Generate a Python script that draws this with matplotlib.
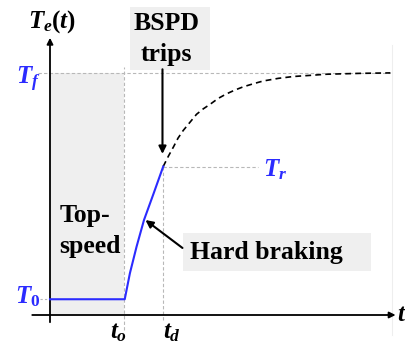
import matplotlib.pyplot as plt
from matplotlib.patches import Rectangle

plt.rcParams["font.family"] = ["Liberation Serif", "DejaVu Serif"]
plt.rcParams["mathtext.fontset"] = "custom"
plt.rcParams["mathtext.rm"] = "Liberation Serif:bold"
plt.rcParams["mathtext.it"] = "Liberation Serif:bold:italic"
plt.rcParams["mathtext.bf"] = "Liberation Serif:bold"

# key levels and instants (schematic units)
T0 = 0.35
Tf = 5.37
Tr = 3.30
t_o = 1.0
t_d = 1.53

# temperature while braking (solid) and the would-be rise after the trip (dashed)
ramp_t = [0.0, 1.01, 1.08, 1.17, 1.27, 1.40, 1.53]
ramp_T = [0.35, 0.35, 0.93, 1.52, 2.11, 2.70, 3.30]
rest_t = [1.53, 1.60, 1.67, 1.73, 1.80, 1.90, 1.98, 2.07, 2.17, 2.27, 2.38,
          2.50, 2.61, 2.75, 2.88, 3.09, 3.29, 3.56, 3.73, 3.96, 4.19, 4.60]
rest_T = [3.30, 3.53, 3.74, 3.93, 4.10, 4.30, 4.46, 4.58, 4.69, 4.81, 4.91,
          5.00, 5.07, 5.14, 5.20, 5.26, 5.30, 5.33, 5.35, 5.36, 5.37, 5.38]

blue = "#2b2bff"
grid = "#b8b8b8"
shade = "#efefef"
bold = 18.5

fig = plt.figure(figsize=(4.05, 3.49), dpi=100)
ax = fig.add_axes([0, 0, 1, 1])
ax.set_xlim(-50 / 74, 355 / 74)
ax.set_ylim(-34 / 45, 315 / 45)
ax.axis("off")

# top-speed region
ax.add_patch(Rectangle((0, 0), t_o, Tf, facecolor=shade, edgecolor="none", zorder=0))

# guide lines
ax.plot([-0.16, 4.59], [Tf, Tf], ls=(0, (3, 2)), color=grid, lw=0.8, zorder=1)
ax.plot([t_o, t_o], [-0.33, 5.51], ls=(0, (3, 2)), color=grid, lw=0.8, zorder=1)
ax.plot([t_d, t_d], [-0.11, Tr], ls=(0, (3, 2)), color=grid, lw=0.8, zorder=1)
ax.plot([t_d, 2.81], [Tr, Tr], ls=(0, (3, 2)), color=grid, lw=0.8, zorder=1)
ax.plot([-0.135, 0], [T0, T0], ls=(0, (2, 2)), color=grid, lw=0.8, zorder=1)
ax.plot([4.62, 4.62], [-0.45, 6.0], color="#eeeeee", lw=0.8, zorder=0)

# axes with arrowheads
ax.annotate("", xy=(0, 6.16), xytext=(0, -0.16),
            arrowprops=dict(arrowstyle="-|>", color="black", lw=1.3,
                            mutation_scale=9, shrinkA=0, shrinkB=0))
ax.annotate("", xy=(4.67, 0), xytext=(-0.24, 0),
            arrowprops=dict(arrowstyle="-|>", color="black", lw=1.3,
                            mutation_scale=9, shrinkA=0, shrinkB=0))

# curves
ax.plot(rest_t, rest_T, ls=(0, (3.5, 2.5)), color="black", lw=1.2, zorder=2)
ax.plot(ramp_t, ramp_T, color=blue, lw=1.5, zorder=3)

# axis labels
ax.text(0.03, 6.53, r"$T_e(t)$", fontsize=18, ha="center", va="center")
ax.text(4.75, 0.0, r"$t$", fontsize=18, ha="center", va="center")
ax.text(t_o - 0.07, -0.40, r"$t_o$", fontsize=18, ha="center", va="center")
ax.text(t_d + 0.12, -0.40, r"$t_d$", fontsize=18, ha="center", va="center")
ax.text(-0.29, Tf - 0.13, r"$T_f$", fontsize=18, ha="center", va="center", color=blue)
ax.text(-0.30, T0 + 0.05, r"$T_\mathit{0}$", fontsize=18, ha="center", va="center", color=blue)
ax.text(3.04, Tr - 0.08, r"$T_r$", fontsize=18, ha="center", va="center", color=blue)

# annotations
ax.text(0.13, 2.22, "Top-", fontsize=bold, fontweight="bold", ha="left", va="center")
ax.text(0.13, 1.53, "speed", fontsize=bold, fontweight="bold", ha="left", va="center")

ax.add_patch(Rectangle((80 / 74, 245 / 45), 80 / 74, 63 / 45,
                       facecolor=shade, edgecolor="none", zorder=1))
ax.text(1.58, 6.48, "BSPD", fontsize=bold, fontweight="bold",
        ha="center", va="center", zorder=2)
ax.text(1.57, 5.80, "trips", fontsize=bold, fontweight="bold",
        ha="center", va="center", zorder=2)

ax.add_patch(Rectangle((133 / 74, 44 / 45), 188 / 74, 38 / 45,
                       facecolor=shade, edgecolor="none", zorder=1))
ax.text(2.92, 1.40, "Hard braking", fontsize=bold, fontweight="bold",
        ha="center", va="center", zorder=2)

ax.annotate("", xy=(t_d - 0.01, 3.58), xytext=(t_d - 0.01, 5.46),
            arrowprops=dict(arrowstyle="-|>", color="black", lw=1.5,
                            mutation_scale=11, shrinkA=0, shrinkB=0))
ax.annotate("", xy=(1.29, 2.11), xytext=(1.79, 1.49),
            arrowprops=dict(arrowstyle="-|>", color="black", lw=1.5,
                            mutation_scale=11, shrinkA=0, shrinkB=0))

fig.savefig("out.png", dpi=100)
